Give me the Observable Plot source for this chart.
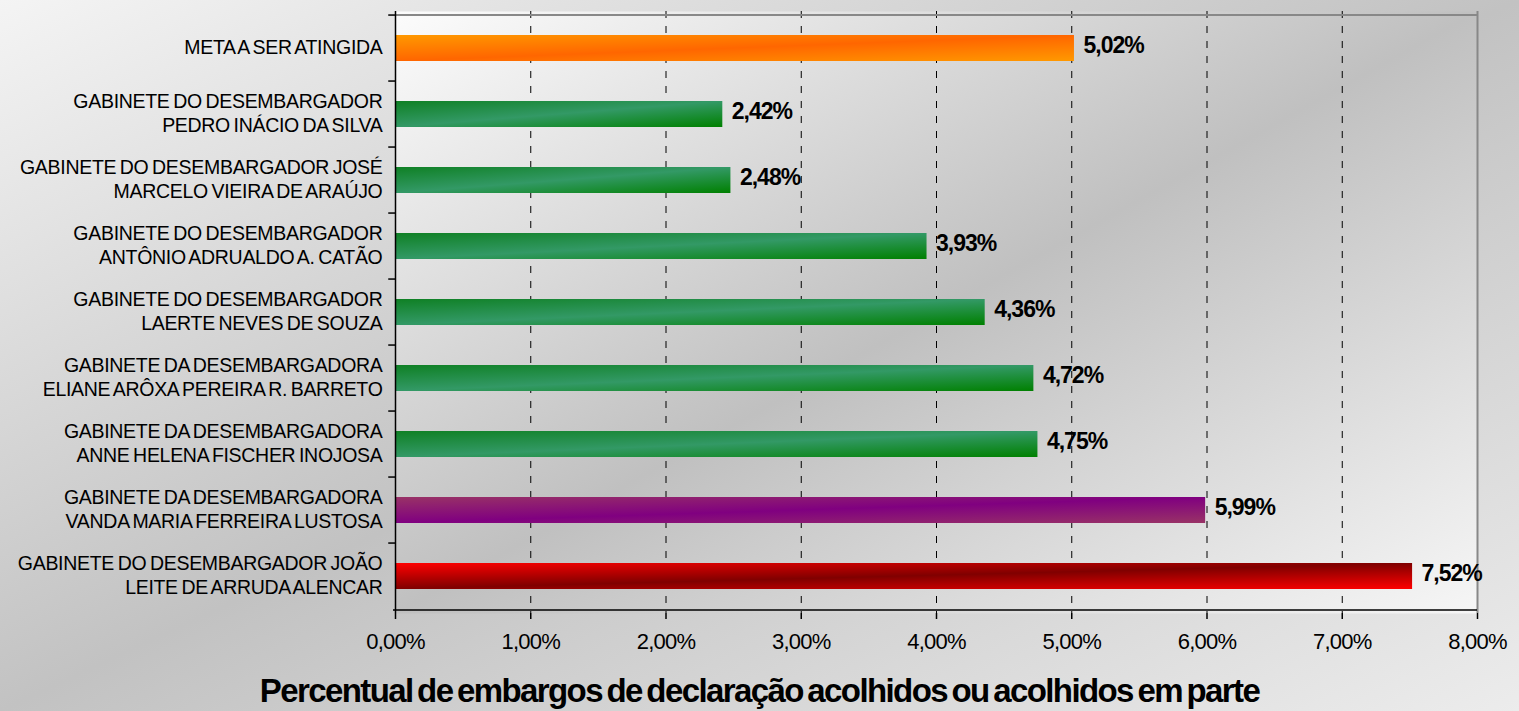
<!DOCTYPE html>
<html>
<head>
<meta charset="utf-8">
<script src="https://cdn.jsdelivr.net/npm/d3@7"></script>
<script src="https://cdn.jsdelivr.net/npm/@observablehq/plot@0.6"></script>
<style>
  html, body { margin: 0; padding: 0; width: 1519px; height: 711px; overflow: hidden; }
  body {
    background: linear-gradient(to bottom right, #f4f4f4 0%, #c2c2c2 50%, #ececec 100%);
    font-family: "Liberation Sans", Arial, sans-serif;
  }
  #title {
    width: 1519px; text-align: center; font-weight: bold; font-size: 33px;
    line-height: 36px; padding-top: 5px; letter-spacing: -1.6px; word-spacing: -3px; color: #000;
  }
</style>
</head>
<body>
<div id="chart"></div>
<div id="title">Percentual de embargos de declaração acolhidos ou acolhidos em parte</div>
<script>
const labels = [
  "META A SER ATINGIDA",
  "GABINETE DO DESEMBARGADOR\nPEDRO INÁCIO DA SILVA",
  "GABINETE DO DESEMBARGADOR JOSÉ\nMARCELO VIEIRA DE ARAÚJO",
  "GABINETE DO DESEMBARGADOR\nANTÔNIO ADRUALDO A. CATÃO",
  "GABINETE DO DESEMBARGADOR\nLAERTE NEVES DE SOUZA",
  "GABINETE DA DESEMBARGADORA\nELIANE ARÔXA PEREIRA R. BARRETO",
  "GABINETE DA DESEMBARGADORA\nANNE HELENA FISCHER INOJOSA",
  "GABINETE DA DESEMBARGADORA\nVANDA MARIA FERREIRA LUSTOSA",
  "GABINETE DO DESEMBARGADOR JOÃO\nLEITE DE ARRUDA ALENCAR"
];
const values = [5.02, 2.42, 2.48, 3.93, 4.36, 4.72, 4.75, 5.99, 7.52];
const groups = ["orange", "green", "green", "green", "green", "green", "green", "purple", "red"];
const xTicks = [0, 1, 2, 3, 4, 5, 6, 7, 8];

const gradients = {
  orange: ["#ff9900", "#ff6600", "#ff9900"],
  green:  ["#0f8024", "#339966", "#008000"],
  purple: ["#993366", "#800080", "#993366"],
  red:    ["#ff0000", "#800000", "#ff0000"],
  plotbg: ["#fcfcfc", "#c0c0c0", "#f6f6f6"]
};

const rows = labels.map((label, i) => ({label, value: values[i], fill: `url(#g-${groups[i]})`}));

const W = 1519, H = 668, mTop = 11, mBottom = 55, mLeft = 395, mRight = 42;
const padIn = 0.6, padOut = 0.3;
const step = (H - mTop - mBottom) / (labels.length - padIn + 2 * padOut);
const fmt = d => d.toFixed(2).replace(".", ",") + "%";

const plot = Plot.plot({
  width: W, height: H,
  marginTop: mTop, marginBottom: mBottom, marginLeft: mLeft, marginRight: mRight,
  style: {background: "transparent", fontFamily: "Liberation Sans, Arial, sans-serif", overflow: "visible"},
  x: {domain: [0, 8], axis: null},
  y: {domain: labels, paddingInner: padIn, paddingOuter: padOut, axis: null},
  color: {type: "identity"},
  marks: [
    Plot.frame({fill: "url(#g-plotbg)", stroke: "none"}),
    Plot.ruleX(xTicks.slice(1, -1), {stroke: "#000", strokeWidth: 1, strokeDasharray: "7,8"}),
    Plot.barX(rows, {x: "value", y: "label", fill: "fill"}),
    Plot.ruleY([labels[0]], {dy: -step / 2, stroke: "#888", strokeWidth: 2}),
    Plot.ruleX([8], {stroke: "#888", strokeWidth: 2}),
    Plot.ruleX([0], {stroke: "#000", strokeWidth: 1.5}),
    Plot.ruleY(labels, {dy: -step / 2, x1: -0.05, x2: 0, stroke: "#000", strokeWidth: 1.5}),
    Plot.ruleY([labels[labels.length - 1]], {dy: step / 2, x1: -0.015, x2: 8, stroke: "#000", strokeWidth: 1.5}),
    Plot.axisX({ticks: xTicks, tickFormat: fmt, tickSize: 6, tickPadding: 14, fontSize: 22, stroke: "#000", strokeWidth: 1.5, fill: "#000", label: null, className: "xt"}),
    Plot.text(rows, {x: 0, y: "label", text: "label", dx: -13, dy: -2, textAnchor: "end", lineAnchor: "middle", lineHeight: 1.2, fontSize: 19.5, fill: "#000", className: "cat"}),
    Plot.text(rows, {x: "value", y: "label", text: d => fmt(d.value), dx: 9, dy: -3, textAnchor: "start", fontWeight: "bold", fontSize: 23, fill: "#000", className: "val"})
  ]
});

const svg = d3.select(plot);
const defs = svg.insert("defs", ":first-child");
for (const [name, stops] of Object.entries(gradients)) {
  const g = defs.append("linearGradient").attr("id", `g-${name}`)
    .attr("x1", 0).attr("y1", 0).attr("x2", 1).attr("y2", 1);
  stops.forEach((c, i) => g.append("stop").attr("offset", i / (stops.length - 1)).attr("stop-color", c));
}
svg.selectAll(".cat text").style("letter-spacing", "-0.3px").style("word-spacing", "-1.5px");
svg.selectAll(".xt text").style("letter-spacing", "-0.8px");
svg.selectAll(".val text").style("letter-spacing", "-1px");
document.getElementById("chart").appendChild(plot);
</script>
</body>
</html>
